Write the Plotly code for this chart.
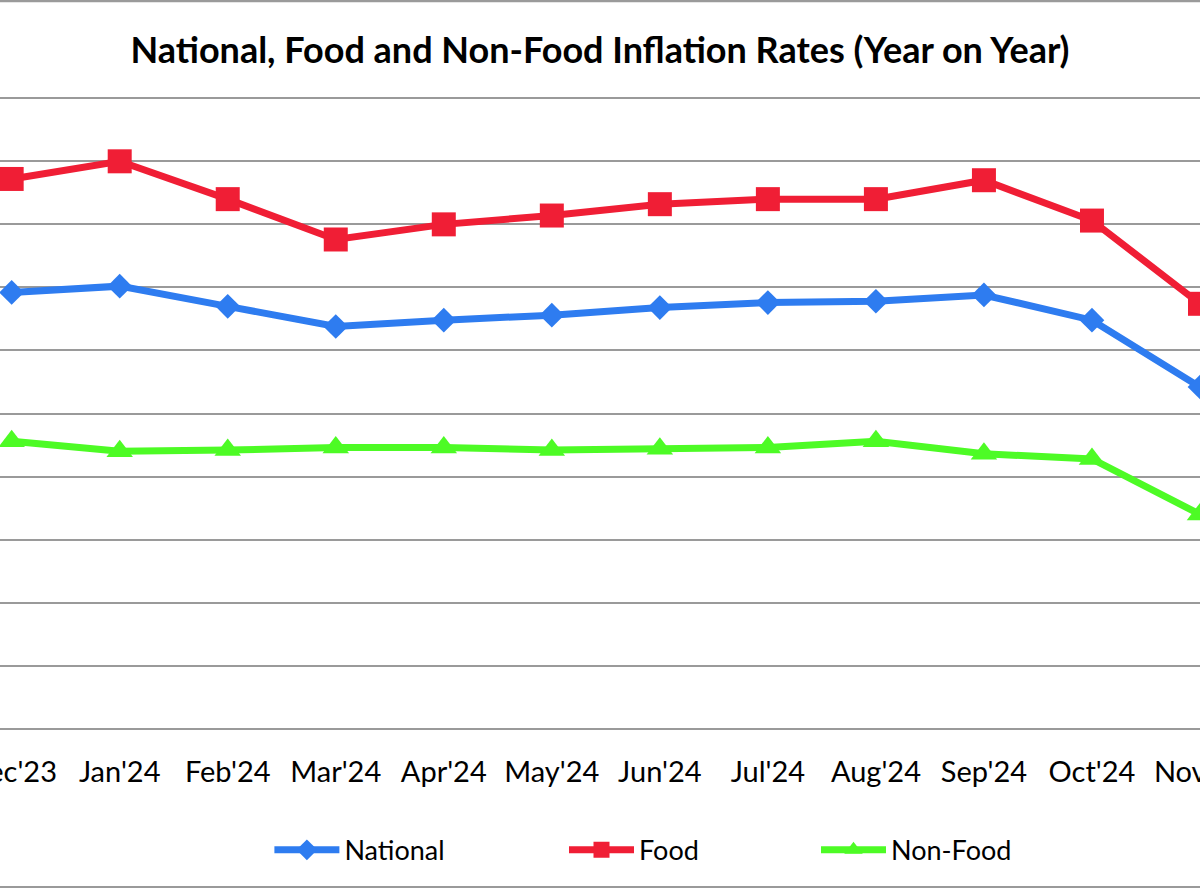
import plotly.graph_objects as go

months = ["Dec'23", "Jan'24", "Feb'24", "Mar'24", "Apr'24", "May'24",
          "Jun'24", "Jul'24", "Aug'24", "Sep'24", "Oct'24", "Nov'24"]
national = [34.6, 35.1, 33.5, 31.9, 32.4, 32.8, 33.4, 33.8, 33.9, 34.4, 32.4, 27.1]
food = [43.6, 45.0, 42.0, 38.8, 40.0, 40.7, 41.6, 42.0, 42.0, 43.5, 40.3, 33.7]
non_food = [22.8, 22.0, 22.1, 22.3, 22.3, 22.1, 22.2, 22.3, 22.8, 21.8, 21.4, 17.0]

FONT = "Lato"
BLUE, RED, GREEN = "#2E7CF0", "#F01E35", "#4DFB25"
xs = list(range(len(months)))

fig = go.Figure()
fig.add_trace(go.Scatter(x=xs, y=national, name="National", mode="lines+markers",
                         line=dict(color=BLUE, width=7),
                         marker=dict(symbol="diamond", size=19, color=BLUE),
                         legend="legend", showlegend=True))
fig.add_trace(go.Scatter(x=xs, y=food, name="Food", mode="lines+markers",
                         line=dict(color=RED, width=7),
                         marker=dict(symbol="square", size=24, color=RED),
                         legend="legend2", showlegend=True))
fig.add_trace(go.Scatter(x=xs, y=non_food, name="Non-Food", mode="lines+markers",
                         line=dict(color=GREEN, width=7),
                         marker=dict(symbol="triangle-up", size=23, color=GREEN),
                         legend="legend3", showlegend=True))

leg_common = dict(orientation="h", yanchor="middle", xanchor="left",
                  font=dict(family=FONT, size=27, color="#000000"),
                  bgcolor="rgba(0,0,0,0)", y=-0.19, itemwidth=65)

fig.update_layout(
    width=1200, height=888,
    showlegend=True,
    margin=dict(l=0, r=0, t=97, b=158, autoexpand=False),
    paper_bgcolor="white", plot_bgcolor="white",
    title=dict(text="<b>National, Food and Non-Food Inflation Rates (Year on Year)</b>",
               x=0.5, xanchor="center", y=1 - 50 / 888, yanchor="middle",
               font=dict(family=FONT, size=36, color="#000000")),
    xaxis=dict(range=[-0.108, 11.0], tickvals=xs, ticktext=months,
               showgrid=False, zeroline=False, showline=False,
               ticks="outside", ticklen=16, tickcolor="rgba(0,0,0,0)",
               ticklabeloverflow="allow", automargin=False,
               tickfont=dict(family=FONT, size=29, color="#000000")),
    yaxis=dict(range=[-0.1, 50.1], dtick=5, tick0=0, showticklabels=False,
               showgrid=True, gridcolor="#9A9A9A", gridwidth=2,
               zeroline=True, zerolinecolor="#9A9A9A", zerolinewidth=2,
               showline=False, automargin=False),
    legend=dict(x=0.2245, **leg_common),
    legend2=dict(x=0.470, **leg_common),
    legend3=dict(x=0.680, **leg_common),
    shapes=[
        dict(type="line", xref="paper", yref="paper", x0=0, x1=1,
             y0=(729 - 2) / 631, y1=(729 - 2) / 631,
             line=dict(color="#9A9A9A", width=3)),
        dict(type="line", xref="paper", yref="paper", x0=0, x1=1,
             y0=(729 - 886) / 631, y1=(729 - 886) / 631,
             line=dict(color="#9A9A9A", width=3)),
    ],
)

fig.write_html("out.html", config={"displayModeBar": False},
               post_script="document.body.style.margin='0';document.body.style.overflow='hidden';")
